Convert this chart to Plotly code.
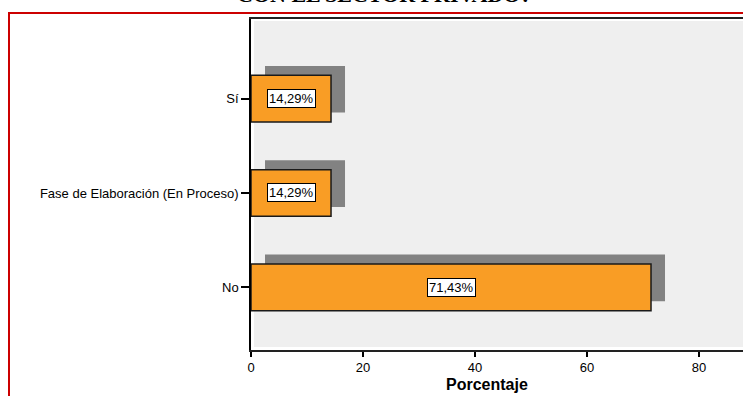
import plotly.graph_objects as go

categories = ["No", "Fase de Elaboración (En Proceso)", "Sí"]
values = [71.43, 14.29, 14.29]
x_ticks = [0, 20, 40, 60, 80]
title_text = "CON EL SECTOR PRIVADO?"
x_title = "Porcentaje"

labels = [f"{v:.2f}".replace(".", ",") + "%" for v in values]

W, H = 743, 396
ML, MT = 251, 19
PLOT_BOTTOM = 350
MR, MB = 0, H - PLOT_BOTTOM
PW, PH = W - ML - MR, H - MT - MB

def px_x(s):
    return (s - ML) / PW

def px_y(s):
    return 1 - (s - MT) / PH

bar_w = 0.495
shadow_dx = 2.5
shadow_dy = 0.1

fig = go.Figure()
fig.add_trace(go.Bar(
    y=categories, x=values, base=shadow_dx, orientation="h",
    width=bar_w, offset=-bar_w / 2 + shadow_dy,
    marker=dict(color="#828282", line=dict(width=0)),
    hoverinfo="skip", showlegend=False,
))
fig.add_trace(go.Bar(
    y=categories, x=values, orientation="h",
    width=bar_w, offset=-bar_w / 2,
    marker=dict(color="#F99D25", line=dict(color="#1a1a1a", width=1.5)),
    showlegend=False,
))

for c, v, t in zip(categories, values, labels):
    fig.add_annotation(
        x=v / 2, y=c, xref="x", yref="y", text=t, showarrow=False,
        font=dict(family="Liberation Sans, Arial", size=13, color="black"),
        bgcolor="white", bordercolor="black", borderwidth=1, borderpad=1,
    )

fig.add_shape(type="rect", xref="paper", yref="paper",
              x0=px_x(254), x1=1.01, y0=px_y(347), y1=px_y(21),
              fillcolor="#efefef", line=dict(width=0), layer="below")
fig.add_shape(type="rect", xref="paper", yref="paper",
              x0=px_x(9), x1=1.05, y0=-0.3, y1=px_y(13),
              fillcolor="rgba(0,0,0,0)", line=dict(color="#cc0000", width=2))

fig.add_annotation(
    x=px_x(384), y=px_y(9), xref="paper", yref="paper", text=f"<b>{title_text}</b>",
    showarrow=False, xanchor="center", yanchor="bottom",
    font=dict(family="Liberation Serif, Times New Roman", size=22, color="black"),
)
fig.add_annotation(
    x=px_x(487), y=px_y(384), xref="paper", yref="paper", text=f"<b>{x_title}</b>",
    showarrow=False, xanchor="center", yanchor="middle",
    font=dict(family="Liberation Sans, Arial", size=16, color="black"),
)

fig.update_layout(
    width=W, height=H,
    margin=dict(l=ML, r=MR, t=MT, b=MB, pad=0),
    paper_bgcolor="white", plot_bgcolor="white",
    barmode="overlay",
    font=dict(family="Liberation Sans, Arial", size=13, color="black"),
)
fig.update_xaxes(
    range=[0, PW / 5.6], tickvals=x_ticks, ticktext=[str(t) for t in x_ticks],
    showgrid=False, zeroline=False, showline=True, linecolor="#222222", linewidth=1.5,
    mirror=True, ticks="outside", ticklen=5, tickcolor="black", tickwidth=1.5,
    tickfont=dict(size=13, color="black"),
)
fig.update_yaxes(
    categoryorder="array", categoryarray=categories,
    range=[-0.665, 2.845],
    showgrid=False, zeroline=False, showline=True, linecolor="black", linewidth=1.5,
    ticks="outside", ticklen=8, tickcolor="black", tickwidth=1.5,
    tickfont=dict(size=13, color="black"),
)

fig.write_html("out.html", config={"displayModeBar": False},
               post_script="document.body.style.margin='0';document.body.style.overflow='hidden';")
